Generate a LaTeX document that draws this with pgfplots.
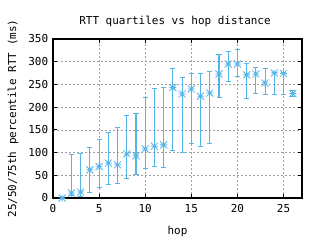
\documentclass[border=0pt]{standalone}
\usepackage{pgfplots}
\usepackage{pgfplotstable}
\pgfplotsset{compat=1.18}
\usepackage{fontspec}
\setmainfont{DejaVu Sans Mono}
\definecolor{gpblue}{RGB}{86,180,233}
\definecolor{gridgray}{RGB}{160,160,160}
\pgfdeclareplotmark{gpstar}{%
  \pgfpathmoveto{\pgfqpoint{-\pgfplotmarksize}{0pt}}\pgfpathlineto{\pgfqpoint{\pgfplotmarksize}{0pt}}%
  \pgfpathmoveto{\pgfqpoint{0pt}{-\pgfplotmarksize}}\pgfpathlineto{\pgfqpoint{0pt}{\pgfplotmarksize}}%
  \pgfpathmoveto{\pgfqpoint{-\pgfplotmarksize}{-\pgfplotmarksize}}\pgfpathlineto{\pgfqpoint{\pgfplotmarksize}{\pgfplotmarksize}}%
  \pgfpathmoveto{\pgfqpoint{-\pgfplotmarksize}{\pgfplotmarksize}}\pgfpathlineto{\pgfqpoint{\pgfplotmarksize}{-\pgfplotmarksize}}%
  \pgfusepathqstroke}
\pgfplotstableread{
x med lo hi
1 0 0 0
2 11 5 95
3 13 4 97
4 62 13 112
5 69 24 128
6 77 29 145
7 73 33 156
8 97 42 182
9 93 51 185
10 108 64 221
11 114 69 240
12 117 67 244
13 243 104 284
14 229 100 266
15 240 119 273
16 224 114 273
17 231 119 279
18 273 222 315
19 295 257 323
20 295 268 326
21 271 218 295
22 273 229 288
23 253 227 286
24 275 227 277
25 274 227 277
26 230 224 236
}\rtt
\begin{document}
\fontsize{11}{13}\selectfont
\begin{tikzpicture}
\begin{axis}[
  name=ax, at={(0,0)}, anchor=south west,
  scale only axis, width=249bp, height=159bp,
  xmin=0, xmax=27, ymin=0, ymax=350,
  xtick={0,5,10,15,20,25}, ytick={0,50,...,350},
  /pgf/number format/assume math mode=true,
  tick label style={font=\fontsize{11}{13}\selectfont},
  label style={font=\fontsize{11}{13}\selectfont},
  title style={font=\fontsize{11}{13}\selectfont},
  axis line style={line width=1.2bp, black},
  tick align=inside, major tick length=4bp,
  tick style={black, line width=0.8bp},
  grid=major,
  major grid style={gridgray, dash pattern=on 2bp off 2bp, line width=0.7bp},
  xticklabel style={yshift=-3bp},
  yticklabel style={xshift=-1bp},
  title={RTT quartiles vs hop distance},
  title style={at={(axis description cs:0.49,1.075)}, anchor=center},
  xlabel={hop},
  xlabel style={at={(axis description cs:0.5,-0.21)}, anchor=center},
  ylabel={25/50/75th percentile RTT (ms)},
  ylabel style={at={(axis description cs:-0.16,0.5)}, anchor=center},
]
\addplot[gpblue, only marks, mark=gpstar, mark size=3.5bp, line width=0.8bp,
  error bars/.cd, y dir=both, y explicit,
  error mark=-, error mark options={gpblue, mark size=2.5bp, line width=1bp, rotate=90},
  error bar style={gpblue, line width=1.2bp}]
  table[x=x, y=med, y error plus expr=\thisrow{hi}-\thisrow{med}, y error minus expr=\thisrow{med}-\thisrow{lo}] {\rtt};
\end{axis}
\path[use as bounding box] (ax.south west) ++(-53bp,-42bp) rectangle ++(320bp,240bp);
\end{tikzpicture}
\end{document}
